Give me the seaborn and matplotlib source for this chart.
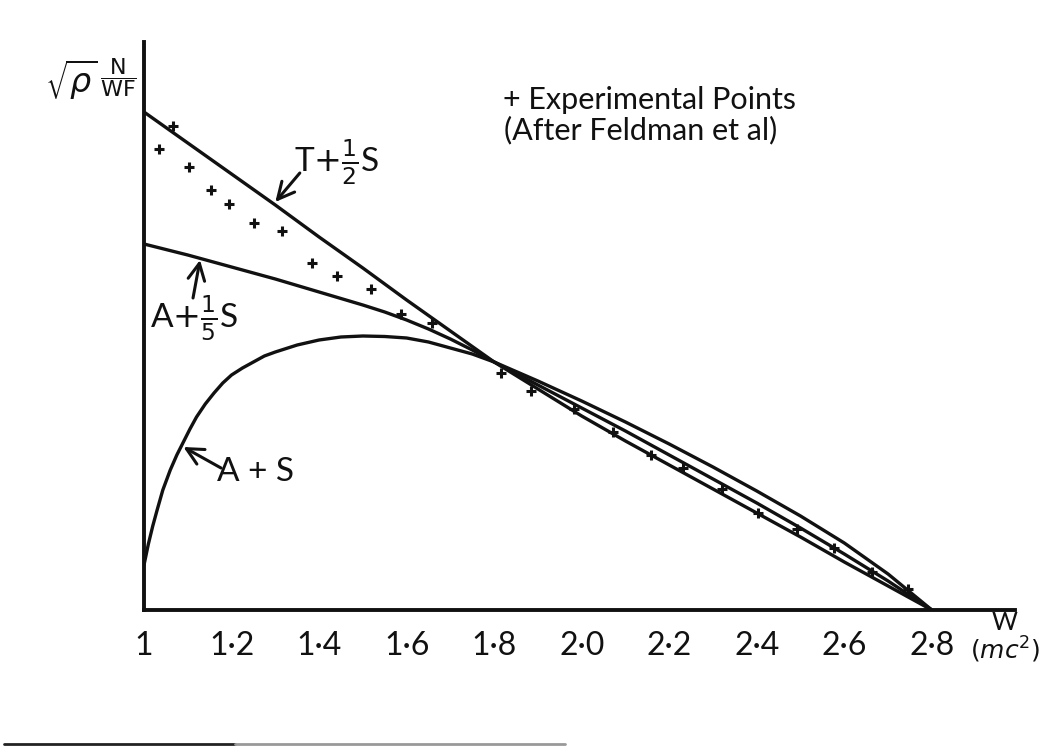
import matplotlib
matplotlib.use("Agg")
import matplotlib.pyplot as plt
from matplotlib.lines import Line2D
import seaborn as sns
import pandas as pd

# Theoretical curves (energy W in units of mc^2, ordinate in arbitrary units)
x_t = [1.0, 1.1, 1.2, 1.3, 1.4, 1.5, 1.6, 1.7, 1.8, 1.9,
       2.0, 2.1, 2.2, 2.3, 2.4, 2.5, 2.6, 2.7, 2.8]
t_half_s = [4.98, 4.67, 4.36, 4.05, 3.73, 3.42, 3.10, 2.79, 2.48, 2.21,
            1.94, 1.69, 1.45, 1.21, 0.97, 0.73, 0.48, 0.24, 0.00]

x_a5 = [1.0, 1.1, 1.2, 1.3, 1.4, 1.5, 1.55, 1.6, 1.65, 1.7, 1.75, 1.8,
        1.9, 2.0, 2.1, 2.2, 2.3, 2.4, 2.5, 2.6, 2.7, 2.8]
a_fifth_s = [3.66, 3.55, 3.43, 3.31, 3.18, 3.05, 2.98, 2.90, 2.81, 2.71,
             2.60, 2.48, 2.25, 2.02, 1.79, 1.55, 1.31, 1.07, 0.82, 0.56,
             0.29, 0.00]

x_as = [1.0, 1.01, 1.02, 1.03, 1.043, 1.06, 1.075, 1.09, 1.105, 1.12, 1.14,
        1.16, 1.18, 1.2, 1.225, 1.25, 1.275, 1.3, 1.35, 1.4, 1.45, 1.5,
        1.55, 1.6, 1.65, 1.7, 1.75, 1.8, 1.9, 2.0, 2.1, 2.2, 2.3, 2.4, 2.5,
        2.6, 2.7, 2.8]
a_plus_s = [0.45, 0.66, 0.84, 1.00, 1.20, 1.40, 1.55, 1.68, 1.81, 1.93, 2.06,
            2.17, 2.27, 2.35, 2.42, 2.48, 2.54, 2.58, 2.65, 2.70, 2.73, 2.74,
            2.735, 2.72, 2.68, 2.62, 2.56, 2.48, 2.29, 2.09, 1.88, 1.66,
            1.43, 1.19, 0.94, 0.67, 0.36, 0.00]

# Experimental points (Feldman et al)
exp_w = [1.034, 1.066, 1.103, 1.153, 1.194, 1.251, 1.315, 1.384, 1.441,
         1.519, 1.587, 1.658, 1.815, 1.884, 1.982, 2.071, 2.158, 2.231,
         2.320, 2.402, 2.492, 2.576, 2.663, 2.745]
exp_y = [4.61, 4.84, 4.43, 4.20, 4.06, 3.87, 3.79, 3.47, 3.34,
         3.21, 2.96, 2.87, 2.37, 2.19, 2.01, 1.78, 1.55, 1.42,
         1.21, 0.97, 0.81, 0.62, 0.38, 0.21]

tick_values = [1.0, 1.2, 1.4, 1.6, 1.8, 2.0, 2.2, 2.4, 2.6, 2.8]
tick_labels = ["1", "1\u00b72", "1\u00b74", "1\u00b76", "1\u00b78",
               "2\u00b70", "2\u00b72", "2\u00b74", "2\u00b76", "2\u00b78"]

sns.set_style("white")
plt.rcParams["font.family"] = ["Lato", "DejaVu Sans"]
plt.rcParams["mathtext.fontset"] = "dejavusans"

ink = "#111111"
fig = plt.figure(figsize=(10.64, 7.46), dpi=100)
ax = fig.add_axes([144 / 1064, 136 / 746, (1015 - 144) / 1064, 568 / 746])

curves = pd.concat([
    pd.DataFrame({"W": x_t, "val": t_half_s, "curve": "T+S/2"}),
    pd.DataFrame({"W": x_a5, "val": a_fifth_s, "curve": "A+S/5"}),
    pd.DataFrame({"W": x_as, "val": a_plus_s, "curve": "A+S"}),
])
sns.lineplot(data=curves, x="W", y="val", units="curve", estimator=None,
             sort=False, color=ink, lw=2.4, ax=ax, legend=False)

pts = pd.DataFrame({"W": exp_w, "val": exp_y})
sns.scatterplot(data=pts, x="W", y="val", marker="+", s=50, color=ink,
                linewidth=2.2, ax=ax, legend=False)

ax.set_xlim(1.0, 2.99)
ax.set_ylim(0, 5.68)
ax.set_xlabel("")
ax.set_ylabel("")
ax.set_yticks([])
ax.set_xticks(tick_values)
ax.set_xticklabels(tick_labels, fontsize=23)
ax.tick_params(axis="x", direction="out", length=7, width=2.2, color=ink,
               pad=8, labelcolor=ink)
for side in ("top", "right"):
    ax.spines[side].set_visible(False)
for side in ("left", "bottom"):
    ax.spines[side].set_linewidth(2.8)
    ax.spines[side].set_color(ink)

# Curve labels with arrows
arrow = dict(arrowstyle="->", lw=2.2, color=ink, mutation_scale=30,
             shrinkA=0, shrinkB=0)
ax.annotate("", xy=(1.30, 4.08), xytext=(1.356, 4.37), arrowprops=arrow)
ax.text(1.441, 4.48, r"T$+\frac{1}{2}$S", fontsize=24, ha="center",
        va="center", color=ink)
ax.annotate("", xy=(1.128, 3.50), xytext=(1.112, 3.12), arrowprops=arrow)
ax.text(1.114, 2.92, r"A$+\frac{1}{5}$S", fontsize=24, ha="center",
        va="center", color=ink)
ax.annotate("", xy=(1.09, 1.63), xytext=(1.176, 1.42), arrowprops=arrow)
ax.text(1.255, 1.38, "A + S", fontsize=24, ha="center", va="center",
        color=ink)

ax.text(2.155, 5.10, "+ Experimental Points", fontsize=22, ha="center",
        va="center", color=ink)
ax.text(2.135, 4.80, "(After Feldman et al)", fontsize=22, ha="center",
        va="center", color=ink)

# Axis captions
fig.text(1005 / 1064, 1 - 622 / 746, "W", fontsize=18, ha="center",
         va="center", color=ink)
fig.text(1005 / 1064, 1 - 650 / 746, r"$(mc^2)$", fontsize=18, ha="center",
         va="center", color=ink)
fig.text(97 / 1064, 1 - 80 / 746, r"$\sqrt{\rho}$", fontsize=24,
         ha="right", va="center", color=ink)
fig.text(100 / 1064, 1 - 78 / 746, r"$\dfrac{\mathrm{N}}{\mathrm{WF}}$",
         fontsize=16, ha="left", va="center", color=ink)

# Page edge
fig.add_artist(Line2D([4 / 1064, 235 / 1064], [2.5 / 746, 2.5 / 746],
                      color="#222222", lw=2))
fig.add_artist(Line2D([235 / 1064, 565 / 1064], [2.5 / 746, 2.5 / 746],
                      color="#999999", lw=2))

fig.savefig("out.png", dpi=100, facecolor="white")
